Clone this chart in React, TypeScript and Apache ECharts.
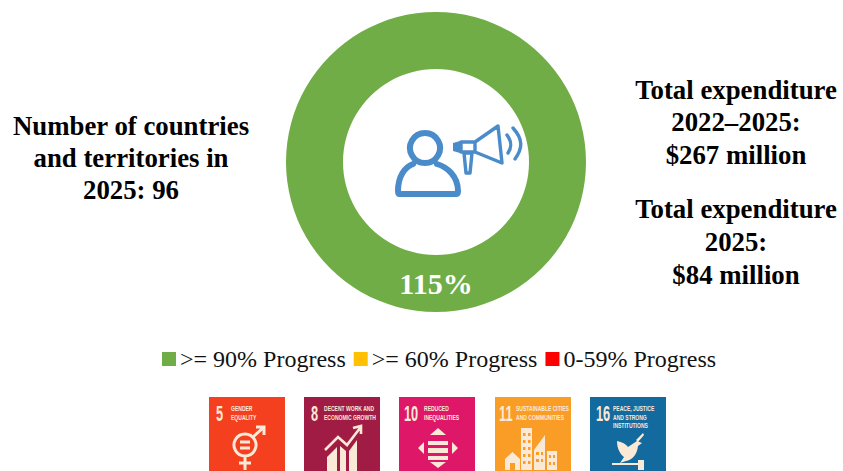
import React, { useEffect, useRef } from "react";
import * as echarts from "echarts";

const progressNames = [">= 90% Progress", ">= 60% Progress", "0-59% Progress"];
const progressValues = [115, 0, 0];
const progressColors = ["#70AD47", "#FFC000", "#FF0000"];
const centreValue = "115%";
const leftLines = ["Number of countries", "and territories in", "2025: 96"];
const rightLines = ["Total expenditure", "2022–2025:", "$267 million", "Total expenditure", "2025:", "$84 million"];
const goalNumbers = ["5", "8", "10", "11", "16"];
const goalTitles = [["GENDER", "EQUALITY"], ["DECENT WORK AND", "ECONOMIC GROWTH"], ["REDUCED", "INEQUALITIES"], ["SUSTAINABLE CITIES", "AND COMMUNITIES"], ["PEACE, JUSTICE", "AND STRONG", "INSTITUTIONS"]];
const goalColors = ["#F4401F", "#A11C44", "#DE1768", "#FA9D26", "#126A9F"];

const rightYs = [90, 122, 155, 209, 242, 275];
const leftYs = [126, 158, 190];
const goalXs = [209, 304, 399, 495, 590];
const numberXs = [7, 7, 5, 4, 6];
const titleXs = [22, 20, 25, 21, 23];

const serif = "'Liberation Serif', 'Times New Roman', serif";
const BLUE = "#4A8BC9";
const CREAM = "#FBE9D8";

const reg = (n: string, d: string) => echarts.graphic.registerShape(n, echarts.graphic.extendPath(d, {}) as any);
reg("personIcon", "M399 194 L456 194 Q458 194 458 191 C458 176 447 167 437 164 M413 164 C405 167 398 176 398 191 Q398 194 400 194 M425 133 A15 15 0 1 0 425.01 133 Z");
reg("hornIcon", "M475 142 L498 126 L502 163 L475 152 Z M461 142 L475 142 L475 152 L461 152 Z M464 153 L472 153 L470 173 L466 173 Z M507 135 C512 142 512 147 508 153 M513 128 C523 139 523 148 515 159");
reg("hornNose", "M453 143 L460 141 L460 153 L453 151 Z");
// glyphs in a 76x74 tile
reg("genderGlyph", "M36 37 A11 11 0 1 0 36.01 37 Z M31 45 L41 45 M31 51 L41 51 M36 59 L36 73 M30 66 L42 66 M44 40 L54 31 M47 30 L55 30 L55 38");
reg("growthGlyph", "M21 53 L34 40 L43 48 L56 31 M49 31 L57 29 L57 37");
reg("growthBars", "M23 60 L33 50 L33 74 L23 74 Z M36 49 L42 54 L42 74 L36 74 Z M45 54 L53 43 L53 74 L45 74 Z");
reg("ineqGlyph", "M29 44 L49 44 L49 48 L29 48 Z M29 51 L49 51 L49 56 L29 56 Z M29 59 L49 59 L49 63 L29 63 Z M39 31 L47 38 L31 38 Z M39 71 L47 65 L31 65 Z M19 51 L25 45 L25 57 Z M59 51 L53 45 L53 57 Z");
reg("cityGlyph", "M10 73 L10 62 L17.5 55 L25 62 L25 73 Z M26 73 L26 31 L37 31 L37 73 Z M39 73 L39 53 L50 38 L50 73 Z M52 73 L52 54 L62 54 L62 73 Z");
reg("cityWindows", "M15 66 L20 66 L20 74 L15 74 Z M28 36 L30.5 36 L30.5 39 L28 39 Z M33 36 L35.5 36 L35.5 39 L33 39 Z M28 43 L30.5 43 L30.5 46 L28 46 Z M33 43 L35.5 43 L35.5 46 L33 46 Z M28 50 L30.5 50 L30.5 53 L28 53 Z M33 50 L35.5 50 L35.5 53 L33 53 Z M28 57 L30.5 57 L30.5 60 L28 60 Z M33 57 L35.5 57 L35.5 60 L33 60 Z M28 64 L30.5 64 L30.5 67 L28 67 Z M33 64 L35.5 64 L35.5 67 L33 67 Z M41 55 L44 55 L44 58 L41 58 Z M46 55 L48 55 L48 58 L46 58 Z M41 62 L44 62 L44 65 L41 65 Z M46 62 L48 62 L48 65 L46 65 Z M54 58 L56 58 L56 61 L54 61 Z M58 58 L60 58 L60 61 L58 61 Z M54 65 L56 65 L56 68 L54 68 Z M58 65 L60 65 L60 68 L58 68 Z");
reg("doveGlyph", "M27 44 C32 45 36 47 38 50 L44 46 L47 44 L52 46 L48 49 C47 58 42 63 36 64 L30 66 L34 60 C29 56 27 50 27 44 Z M46 43 L53 36 L54 38 L48 45 Z M22 66 L50 66 L50 68 L22 68 Z M48 63 L54 63 L54 73 L48 73 Z");

function tile(i: number): any {
  const children: any[] = [
    { type: "rect", shape: { x: 0, y: 0, width: 76, height: 74 }, style: { fill: goalColors[i] } },
    { type: "text", x: numberXs[i], y: 6, scaleX: 0.58, style: { text: goalNumbers[i], fill: CREAM, font: "bold 22px 'Liberation Sans'", textVerticalAlign: "top" } },
  ];
  goalTitles[i].forEach((t, k) => {
    children.push({ type: "text", x: titleXs[i], y: 8 + k * 8.5, scaleX: 0.72, style: { text: t, fill: CREAM, font: "bold 7px 'Liberation Sans'", textVerticalAlign: "top" } });
  });
  if (i === 0) children.push({ type: "genderGlyph", style: { fill: "none", stroke: CREAM, lineWidth: 3 } });
  if (i === 1) {
    children.push({ type: "growthBars", style: { fill: CREAM } });
    children.push({ type: "growthGlyph", style: { fill: "none", stroke: CREAM, lineWidth: 2.6 } });
  }
  if (i === 2) children.push({ type: "ineqGlyph", style: { fill: CREAM } });
  if (i === 3) {
    children.push({ type: "cityGlyph", style: { fill: CREAM } });
    children.push({ type: "cityWindows", style: { fill: goalColors[i] } });
  }
  if (i === 4) children.push({ type: "doveGlyph", style: { fill: CREAM } });
  return { type: "group", x: goalXs[i], y: 397, z: 10, children };
}

export default function App() {
  const ref = useRef<HTMLDivElement>(null);
  useEffect(() => {
    const chart = echarts.init(ref.current!, undefined, { renderer: "svg" });
    const textEl = (text: string, x: number, y: number, size = 26.8, fill = "#000") => ({
      type: "text", x, y, z: 10,
      style: { text, fill, font: `bold ${size}px ${serif}`, textAlign: "center", textVerticalAlign: "middle" },
    });
    chart.setOption({
      animation: false,
      backgroundColor: "#fff",
      legend: {
        left: 157, top: 342, itemWidth: 14, itemHeight: 14, itemGap: 8, icon: "rect", selectedMode: false,
        textStyle: { fontFamily: serif, fontSize: 24, color: "#111", padding: [0, 0, 0, -1] },
        data: progressNames,
      },
      series: [{
        type: "pie", center: [436, 162], radius: [93, 150], silent: true, label: { show: false }, labelLine: { show: false },
        startAngle: 90, minAngle: 0, stillShowZeroSum: true,
        data: progressNames.map((name, i) => ({ name, value: progressValues[i], itemStyle: { color: progressColors[i] } })),
      }],
      graphic: { elements: [
        { type: "personIcon", z: 10, style: { fill: "none", stroke: BLUE, lineWidth: 6, lineJoin: "round", lineCap: "round" } },
        { type: "hornIcon", z: 10, style: { fill: "none", stroke: BLUE, lineWidth: 3.4, lineJoin: "round", lineCap: "round" } },
        { type: "hornNose", z: 10, style: { fill: BLUE } },
        textEl(centreValue, 436, 283, 30, "#fff"),
        ...leftLines.map((t, i) => textEl(t, 131, leftYs[i])),
        ...rightLines.map((t, i) => textEl(t, 736, rightYs[i])),
        ...goalNumbers.map((_, i) => tile(i)),
      ] },
    });
    return () => chart.dispose();
  }, []);
  return <div ref={ref} style={{ position: "absolute", left: 0, top: 0, width: 843, height: 471 }} />;
}
